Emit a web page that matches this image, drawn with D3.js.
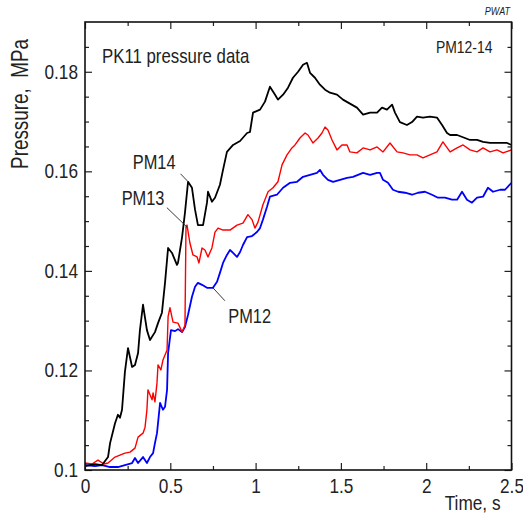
<!DOCTYPE html>
<html>
<head>
<meta charset="utf-8">
<script src="https://cdn.jsdelivr.net/npm/d3@7"></script>
<style>
  body { margin: 0; background: #fff; }
  text { font-family: "Liberation Sans", Arial, sans-serif; fill: #222; }
</style>
</head>
<body>
<div class="chart"></div>
<script>
// time (s), pressure (MPa)
const pm14 = [
  [0,0.1008],[0.059,0.1012],[0.1,0.1010],[0.135,0.1026],[0.147,0.1054],[0.176,0.1094],
  [0.193,0.1111],[0.205,0.1105],[0.217,0.1121],[0.234,0.1197],[0.252,0.1245],[0.276,0.1207],
  [0.293,0.1211],[0.311,0.1235],[0.322,0.1281],[0.34,0.1332],[0.363,0.1281],[0.381,0.1261],
  [0.41,0.1277],[0.428,0.1295],[0.451,0.1316],[0.469,0.1376],[0.487,0.1446],[0.51,0.1436],
  [0.539,0.1412],[0.545,0.1416],[0.569,0.1468],[0.586,0.1517],[0.604,0.1579],[0.627,0.1567],
  [0.645,0.1523],[0.662,0.1492],[0.692,0.1492],[0.715,0.1537],[0.721,0.1559],[0.744,0.1539],
  [0.762,0.1547],[0.791,0.1573],[0.809,0.1603],[0.832,0.1639],[0.868,0.1653],[0.909,0.1661],
  [0.95,0.1677],[0.967,0.1679],[0.985,0.1718],[1.026,0.1724],[1.055,0.1740],[1.084,0.1770],
  [1.114,0.1754],[1.131,0.1744],[1.161,0.1754],[1.19,0.1768],[1.219,0.1788],[1.249,0.1800],
  [1.278,0.1814],[1.301,0.1818],[1.319,0.1798],[1.348,0.1788],[1.377,0.1774],[1.407,0.1764],
  [1.436,0.1758],[1.477,0.1754],[1.512,0.1744],[1.553,0.1736],[1.594,0.1728],[1.63,0.1714],
  [1.671,0.1718],[1.712,0.1718],[1.741,0.1728],[1.77,0.1724],[1.8,0.1734],[1.817,0.1718],
  [1.846,0.1699],[1.887,0.1693],[1.917,0.1699],[1.946,0.1710],[1.981,0.1708],[2.022,0.1710],
  [2.063,0.1708],[2.093,0.1693],[2.122,0.1677],[2.14,0.1673],[2.181,0.1673],[2.227,0.1667],
  [2.257,0.1663],[2.298,0.1663],[2.333,0.1659],[2.374,0.1657],[2.415,0.1657],[2.474,0.1657],
  [2.5,0.1653]
];
const pm13 = [
  [0,0.1014],[0.041,0.1012],[0.076,0.1020],[0.111,0.1012],[0.135,0.1014],[0.176,0.1026],
  [0.205,0.1030],[0.234,0.1034],[0.264,0.1036],[0.293,0.1044],[0.311,0.1066],[0.34,0.1074],
  [0.352,0.1086],[0.363,0.1121],[0.369,0.1161],[0.393,0.1141],[0.399,0.1155],[0.41,0.1137],
  [0.422,0.1175],[0.428,0.1211],[0.445,0.1201],[0.457,0.1221],[0.481,0.1241],[0.487,0.1308],
  [0.498,0.1326],[0.516,0.1297],[0.545,0.1295],[0.569,0.1277],[0.586,0.1291],[0.592,0.1488],
  [0.598,0.1492],[0.615,0.1456],[0.633,0.1432],[0.657,0.1428],[0.668,0.1416],[0.686,0.1446],
  [0.703,0.1442],[0.721,0.1428],[0.744,0.1446],[0.762,0.1478],[0.78,0.1486],[0.809,0.1482],
  [0.85,0.1482],[0.891,0.1492],[0.926,0.1496],[0.955,0.1513],[0.979,0.1503],[0.996,0.1486],
  [1.014,0.1498],[1.043,0.1533],[1.073,0.1559],[1.102,0.1567],[1.131,0.1579],[1.155,0.1613],
  [1.184,0.1633],[1.213,0.1647],[1.231,0.1653],[1.26,0.1667],[1.29,0.1677],[1.307,0.1673],
  [1.336,0.1657],[1.366,0.1667],[1.389,0.1677],[1.407,0.1689],[1.424,0.1683],[1.448,0.1663],
  [1.477,0.1643],[1.506,0.1653],[1.536,0.1653],[1.553,0.1639],[1.594,0.1637],[1.63,0.1647],
  [1.671,0.1643],[1.712,0.1649],[1.747,0.1639],[1.788,0.1657],[1.829,0.1639],[1.864,0.1637],
  [1.905,0.1633],[1.946,0.1633],[1.981,0.1627],[2.022,0.1633],[2.063,0.1639],[2.098,0.1659],
  [2.14,0.1639],[2.181,0.1647],[2.216,0.1653],[2.257,0.1643],[2.298,0.1639],[2.333,0.1647],
  [2.374,0.1639],[2.415,0.1643],[2.45,0.1637],[2.5,0.1643]
];
const pm12 = [
  [0,0.1010],[0.059,0.1008],[0.1,0.1010],[0.147,0.1006],[0.193,0.1006],[0.234,0.1010],
  [0.276,0.1014],[0.293,0.1024],[0.311,0.1014],[0.34,0.1026],[0.363,0.1014],[0.381,0.1026],
  [0.399,0.1034],[0.41,0.1054],[0.422,0.1074],[0.428,0.1094],[0.44,0.1135],[0.457,0.1121],
  [0.469,0.1127],[0.481,0.1161],[0.487,0.1235],[0.504,0.1281],[0.528,0.1279],[0.545,0.1283],
  [0.569,0.1277],[0.586,0.1287],[0.604,0.1312],[0.627,0.1348],[0.645,0.1368],[0.662,0.1376],
  [0.686,0.1372],[0.715,0.1366],[0.75,0.1366],[0.774,0.1378],[0.791,0.1396],[0.809,0.1416],
  [0.832,0.1432],[0.85,0.1442],[0.868,0.1436],[0.891,0.1428],[0.909,0.1438],[0.926,0.1452],
  [0.95,0.1468],[0.979,0.1470],[1.008,0.1478],[1.026,0.1486],[1.043,0.1503],[1.067,0.1529],
  [1.084,0.1549],[1.125,0.1553],[1.161,0.1567],[1.202,0.1577],[1.243,0.1579],[1.278,0.1589],
  [1.319,0.1593],[1.36,0.1597],[1.377,0.1603],[1.395,0.1593],[1.424,0.1583],[1.454,0.1579],
  [1.495,0.1583],[1.536,0.1587],[1.571,0.1589],[1.6,0.1593],[1.63,0.1597],[1.671,0.1593],
  [1.712,0.1597],[1.729,0.1597],[1.747,0.1583],[1.776,0.1577],[1.805,0.1563],[1.835,0.1559],
  [1.876,0.1557],[1.917,0.1553],[1.952,0.1557],[1.993,0.1559],[2.034,0.1553],[2.069,0.1547],
  [2.11,0.1547],[2.151,0.1543],[2.181,0.1543],[2.21,0.1559],[2.239,0.1543],[2.268,0.1537],
  [2.298,0.1547],[2.333,0.1549],[2.362,0.1567],[2.392,0.1559],[2.433,0.1563],[2.462,0.1563],
  [2.5,0.1577]
];

const xMajor = [0, 0.5, 1, 1.5, 2, 2.5];
const xMinor = [0.25, 0.75, 1.25, 1.75, 2.25];
const yMajor = [0.1, 0.12, 0.14, 0.16, 0.18];
const yMinor = [0.105, 0.11, 0.115, 0.125, 0.13, 0.135, 0.145, 0.15, 0.155, 0.165, 0.17, 0.175, 0.185];

const series = [
  {name: 'PM14', data: pm14, color: '#000000', w: 1.8},
  {name: 'PM13', data: pm13, color: '#ff0000', w: 1.4},
  {name: 'PM12', data: pm12, color: '#0000ff', w: 1.8}
];

// label, point on curve [t, p], text position [t, p]
const callouts = [
  {text: 'PM14', at: [0.605, 0.1579], lab: [0.56, 0.1595], tx: [0.28, 0.1604]},
  {text: 'PM13', at: [0.598, 0.1488], lab: [0.48, 0.1527], tx: [0.215, 0.1532]},
  {text: 'PM12', at: [0.75, 0.1366], lab: [0.82, 0.134], tx: [0.84, 0.1296]}
];

const margin = {top: 22, right: 11.5, bottom: 47, left: 85};
const width = 523 - margin.left - margin.right,
    height = 517 - margin.top - margin.bottom;
const sx = 0.82; // narrow type

const xScale = d3.scaleLinear().domain([0, 2.5]).range([0, width]);
const yScale = d3.scaleLinear().domain([0.1, 0.19]).range([height, 0]);

const root = d3.select('.chart').append('svg')
    .attr('width', 523)
    .attr('height', 517);
const svg = root.append('g')
    .attr('transform', 'translate(' + margin.left + ',' + margin.top + ')');

svg.append('clipPath').attr('id', 'plot')
  .append('rect').attr('width', width).attr('height', height);

function label(g, x, y, txt, size, anchor, extra) {
  return g.append('text')
    .attr('transform', `translate(${x},${y})${extra || ''} scale(${sx},1)`)
    .attr('font-size', size)
    .attr('text-anchor', anchor)
    .style('white-space', 'pre')
    .text(txt);
}

// traces
const line = d3.line().x(d => xScale(d[0])).y(d => yScale(d[1]));
svg.append('g').attr('clip-path', 'url(#plot)')
  .selectAll('path')
  .data(series.slice().reverse())
  .enter()
  .append('path')
  .attr('fill', 'none')
  .attr('stroke', d => d.color)
  .attr('stroke-width', d => d.w)
  .attr('stroke-linejoin', 'round')
  .attr('d', d => line(d.data));

// axes, ticks pointing inward on all four sides
function ticks(axis, vals, size, pos, lab) {
  const g = svg.append('g').attr('class', 'axis');
  if (pos) g.attr('transform', pos);
  g.call(axis.tickValues(vals).tickSize(-size).tickPadding(8)
      .tickFormat(lab ? d3.format('~g') : ''));
  g.select('.domain').remove();
  g.selectAll('line').attr('stroke', '#222').attr('stroke-width', 1.2);
  return g;
}
const xb = ticks(d3.axisBottom(xScale), xMajor, 7, `translate(0,${height})`, true);
ticks(d3.axisBottom(xScale), xMinor, 4, `translate(0,${height})`, false);
ticks(d3.axisTop(xScale), xMajor, 7, null, false);
ticks(d3.axisTop(xScale), xMinor, 4, null, false);
const yl = ticks(d3.axisLeft(yScale), yMajor, 7, null, true);
ticks(d3.axisLeft(yScale), yMinor, 4, null, false);
ticks(d3.axisRight(yScale), yMajor, 7, `translate(${width},0)`, false);
ticks(d3.axisRight(yScale), yMinor, 4, `translate(${width},0)`, false);

xb.selectAll('text')
  .attr('font-size', 21).attr('font-family', null).attr('fill', '#222')
  .attr('dy', '0.72em')
  .attr('transform', `scale(${sx},1)`);
yl.selectAll('text')
  .attr('font-size', 21).attr('font-family', null).attr('fill', '#222')
  .attr('x', -7 / sx).attr('dy', '0.3em')
  .attr('transform', `scale(${sx},1)`);

svg.append('rect')
  .attr('width', width).attr('height', height)
  .attr('fill', 'none').attr('stroke', '#111').attr('stroke-width', 1.6);

// axis titles and notes
label(svg, width - 11, height + 40, 'Time, s', 21, 'end');
label(root, 28, 104, 'Pressure,  MPa', 23, 'middle', ' rotate(-90)');
label(svg, 17, 41, 'PK11 pressure data', 20.5, 'start');
label(svg, width - 19, 31, 'PM12-14', 17, 'end');
label(root, 510, 15, 'PWAT', 11, 'end').attr('font-style', 'italic');

// callouts
callouts.forEach(c => {
  svg.append('line')
    .attr('x1', xScale(c.lab[0])).attr('y1', yScale(c.lab[1]))
    .attr('x2', xScale(c.at[0])).attr('y2', yScale(c.at[1]))
    .attr('stroke', '#222').attr('stroke-width', 0.9);
  label(svg, xScale(c.tx[0]), yScale(c.tx[1]), c.text, 20, 'start');
});
</script>
</body>
</html>
